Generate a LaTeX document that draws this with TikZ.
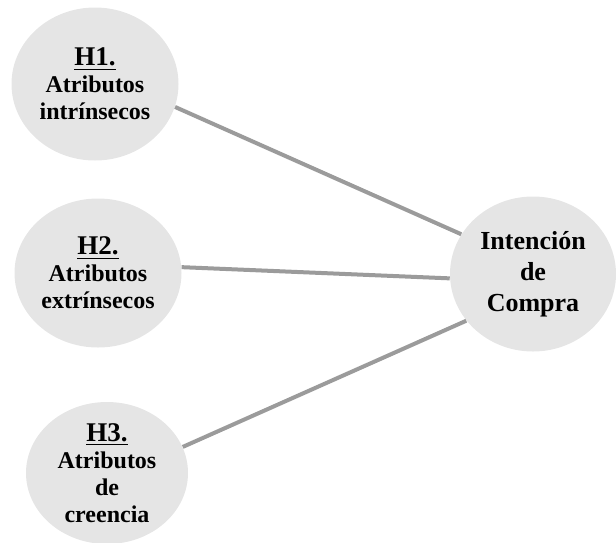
\documentclass[tikz,border=0pt]{standalone}
\usepackage{fontspec}
\setmainfont{Liberation Serif}
\usetikzlibrary{shapes.geometric}
\usetikzlibrary{math}

\definecolor{fondogris}{RGB}{229,229,229}
\definecolor{lineagris}{RGB}{155,155,155}

\newcommand{\hcab}[1]{{\fontsize{13.5}{13.5}\selectfont\underline{#1}}}

\begin{document}
\begin{tikzpicture}[x = 0.5pt, y = -0.5pt,
    hipotesis/.style = {ellipse, fill = fondogris, inner sep = 0pt, align = center,
        font = \bfseries\fontsize{12}{13.5}\selectfont},
    enlace/.style = {draw = lineagris, line width = 2pt}]

    \useasboundingbox (0,0) rectangle (616,542);

    \tikzmath{\w = 83.5pt; \h = 76.5pt;};
    \node[hipotesis, minimum width = \w, minimum height = \h] (h1) at (95,84)
        {\hcab{H1.}\\Atributos\\intrínsecos};
    \node[hipotesis, minimum width = \w, minimum height = 74.5pt] (h2) at (98,273)
        {\hcab{H2.}\\Atributos\\extrínsecos};
    \node[hipotesis, minimum width = 81pt, minimum height = 71pt] (h3) at (107,473)
        {\hcab{H3.}\\Atributos\\de\\creencia};

    \node[hipotesis, minimum width = 83pt, minimum height = 77.5pt,
        font = \bfseries\fontsize{13}{15.5}\selectfont] (compra) at (533,274)
        {Intención\\de\\Compra};

    \draw[enlace] (h1.-16) -- (compra.151);
    \draw[enlace] (h2.4) -- (compra.183);
    \draw[enlace] (h3.19) -- (compra.215);

\end{tikzpicture}
\end{document}
